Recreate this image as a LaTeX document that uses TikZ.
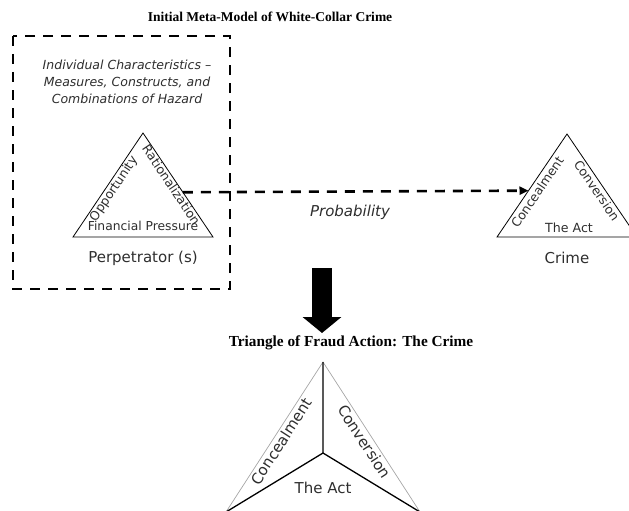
\documentclass[tikz,border=0pt]{standalone}
\usepackage{fontspec}
\usetikzlibrary{arrows.meta,calc}
\newfontfamily\verd{DejaVu Sans}
\newfontfamily\tms{Liberation Serif}
\definecolor{ink}{HTML}{2E2E2E}

\begin{document}
\begin{tikzpicture}[
	x = 1pt, y = -1pt,
	every node/.style = {text = ink, font = \verd\fontsize{15}{17}\selectfont},
	title/.style = {text = black, font = \tms\bfseries\fontsize{13.5}{15}\selectfont},
	side/.style = {sloped, below, inner sep = 1pt, font = \verd\fontsize{12.5}{14}\selectfont},
	bigside/.style = {sloped, below, inner sep = 2.3pt, font = \verd\fontsize{15}{17}\selectfont},
	tri/.style = {line width = 0.8pt},
	boxline/.style = {line width = 2.6pt, dash pattern = on 10pt off 8pt},
	]
	\useasboundingbox (0,0) rectangle (629,511);

	\node[title] (ttop) at (270,17) {Initial Meta-Model of White-Collar Crime};

	% perpetrator box
	\draw[boxline] (13,36) rectangle (230,289);
	\node[align = center, font = \verd\itshape\fontsize{12.5}{17}\selectfont] (hazard) at (127,82)
		{Individual Characteristics –\\ Measures, Constructs, and\\ Combinations of Hazard};

	% fraud triangle of the perpetrator
	\coordinate (pa) at (143,133);
	\coordinate (pl) at (73,237);
	\coordinate (pr) at (213,237);
	\draw[tri] (pl) -- (pa) -- (pr) -- cycle;
	\path (pl) -- (pa) node[side, pos = 0.5] (opp) {Opportunity};
	\path (pa) -- (pr) node[side, pos = 0.47, inner sep = 0.3pt] (rat) {Rationalization};
	\node[font = \verd\fontsize{12.3}{14}\selectfont] (press) at (143,226) {Financial Pressure};
	\node (perp) at (143,258) {Perpetrator (s)};

	% crime triangle
	\coordinate (ca) at (567,134);
	\coordinate (cl) at (497,237);
	\coordinate (cr) at (637,237);
	\draw[tri] (cl) -- (ca) -- (cr) -- cycle;
	\path (cl) -- (ca) node[side, pos = 0.48, inner sep = 3pt] (conc) {Concealment};
	\path (ca) -- (cr) node[side, pos = 0.51, inner sep = 2pt] (conv) {Conversion};
	\node[font = \verd\fontsize{12.6}{14}\selectfont] (act) at (569,228) {The Act};
	\node (crime) at (567,258) {Crime};

	% probability link
	\coordinate (pout) at ($(pa)!0.57!(pr)$);
	\coordinate (cin) at ($(ca)!0.55!(cl)$);
	\draw[boxline, -{Triangle[length = 9pt, width = 8pt]}] (pout) -- (cin);
	\node[font = \verd\itshape\fontsize{15}{17}\selectfont] (prob) at (350,212) {Probability};

	% down arrow
	\coordinate (dtop) at (322,268);
	\coordinate (dtip) at (322,333);
	\draw[line width = 20pt, -{Triangle[length = 16pt, width = 38pt]}] (dtop) -- (dtip);

	\node[title, font = \tms\bfseries\fontsize{15.3}{17}\selectfont] (tbot) at (351,343) {Triangle of Fraud Action: The Crime};

	% triangle of fraud action
	\coordinate (fa) at (323,362);
	\coordinate (fc) at (323,453);
	\coordinate (fl) at (226,512);
	\coordinate (fr) at (420,512);
	\draw[gray!70, line width = 0.7pt] (fl) -- (fa) -- (fr) -- cycle;
	\draw[line width = 1.3pt] (fa) -- (fc) (fl) -- (fc) -- (fr);
	\path (fl) -- (fa) node[bigside, pos = 0.5] (bconc) {Concealment};
	\path (fa) -- (fr) node[bigside, pos = 0.5] (bconv) {Conversion};
	\node (bact) at (323,488) {The Act};

\end{tikzpicture}
\end{document}
